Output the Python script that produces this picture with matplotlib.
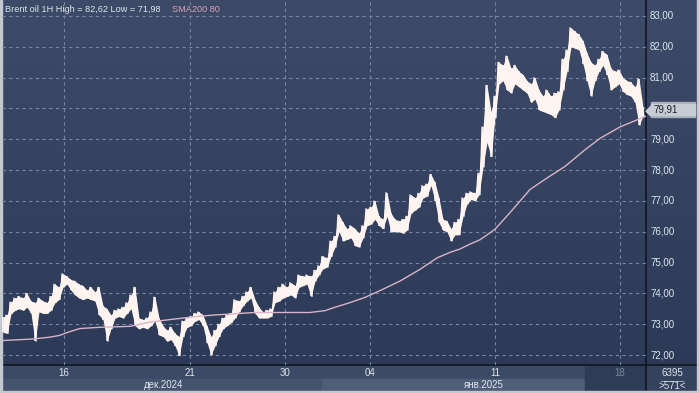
import numpy as np
import matplotlib
matplotlib.use("Agg")
import matplotlib.pyplot as plt
from matplotlib.patches import Rectangle, Polygon

plt.rcParams['font.family'] = ['Liberation Sans', 'DejaVu Sans']

# ---------------- data ----------------
title_text = "Brent oil 1H High = 82,62 Low = 71,98"
sma_label = "SMA200 80"
last_price = 79.91

price_ticks = [72, 73, 74, 75, 76, 77, 78, 79, 80, 81, 82, 83]
date_labels = ["16", "21", "30", "04", "11", "18"]
date_tick_pos = [62, 188, 283, 368, 493, 618]
month_labels = ["дек.2024", "янв.2025"]
bars_count_text = "6395"
visible_text = ">571<"

high = [
    73.23, 73.30, 73.72, 73.85, 73.90, 73.85, 74.00, 73.75,
    73.70, 73.85, 73.75, 73.70, 73.90, 74.30, 74.20, 74.64,
    74.55, 74.45, 74.40, 74.30, 74.25, 74.10, 74.20, 74.05,
    74.20, 73.60, 73.50, 73.30, 73.45, 73.50, 73.55, 73.70,
    73.95, 74.20, 73.20, 73.15, 73.20, 73.40, 73.88, 73.20,
    72.95, 72.80, 72.90, 72.70, 72.60, 73.10, 73.20, 73.25,
    73.35, 73.40, 73.30, 72.95, 72.60, 72.80, 73.00, 73.20,
    73.30, 73.35, 73.80, 73.75, 73.90, 74.05, 74.20, 73.80,
    73.55, 73.40, 73.45, 73.50, 74.05, 74.20, 74.30, 74.20,
    74.35, 74.25, 74.60, 74.55, 74.60, 74.55, 74.75, 74.90,
    75.20, 75.15, 75.70, 75.85, 76.55, 76.30, 76.10, 76.20,
    76.10, 75.95, 76.20, 76.75, 76.80, 77.00, 76.50, 76.40,
    77.27, 76.60, 76.40, 76.35, 76.40, 76.50, 77.20, 77.10,
    77.25, 77.50, 77.55, 77.86, 77.60, 77.10, 76.40, 76.35,
    76.10, 76.30, 76.40, 77.10, 77.25, 77.30, 77.25, 77.90,
    79.40, 80.75, 79.90, 80.40, 81.50, 81.40, 81.70, 81.30,
    81.40, 81.20, 81.10, 80.90, 80.80, 81.00, 80.60, 80.40,
    80.60, 80.40, 80.50, 80.55, 81.60, 81.90, 82.62, 82.50,
    82.40, 82.20, 81.80, 81.50, 81.40, 81.60, 81.85, 81.75,
    81.30, 81.20, 81.25, 81.00, 80.90, 80.85, 80.70, 80.96,
    80.05,
]
low = [
    72.74, 72.70, 73.34, 73.45, 73.50, 73.45, 73.55, 73.35,
    72.45, 73.40, 73.35, 73.35, 73.45, 73.70, 73.80, 74.20,
    74.30, 74.10, 73.95, 73.85, 73.80, 73.85, 73.80, 73.75,
    73.30, 73.15, 72.45, 72.85, 73.20, 73.25, 73.20, 73.35,
    73.50, 72.95, 72.85, 72.90, 72.85, 72.95, 73.10, 72.65,
    72.60, 72.45, 72.50, 72.30, 71.98, 72.60, 72.90, 72.95,
    73.10, 73.15, 72.95, 72.40, 72.00, 72.30, 72.60, 72.85,
    72.95, 73.05, 73.20, 73.40, 73.60, 73.75, 73.85, 73.35,
    73.20, 73.20, 73.20, 73.25, 73.70, 73.75, 73.85, 73.90,
    73.95, 73.85, 74.20, 74.25, 74.30, 73.90, 74.40, 74.60,
    74.80, 74.85, 75.20, 75.50, 76.00, 75.70, 75.75, 75.80,
    75.55, 75.50, 75.80, 76.20, 76.25, 76.40, 76.20, 76.10,
    76.50, 76.00, 76.00, 76.00, 75.95, 76.05, 76.60, 76.70,
    76.80, 77.10, 77.15, 77.50, 77.00, 76.30, 76.05, 76.00,
    75.70, 75.90, 75.90, 76.50, 76.90, 77.05, 77.00, 77.20,
    78.10, 78.90, 78.44, 79.70, 80.80, 80.90, 80.60, 80.50,
    80.80, 80.70, 80.60, 80.50, 80.20, 80.30, 79.95, 79.90,
    79.85, 79.80, 79.70, 79.95, 80.60, 81.20, 82.00, 81.95,
    81.90, 81.45, 80.90, 80.40, 80.90, 81.20, 81.40, 81.10,
    80.60, 80.70, 80.80, 80.55, 80.45, 80.40, 80.20, 79.46,
    79.75,
]

sma_pos = [1, 31, 48, 58, 65, 78, 98, 128, 148, 173, 198, 213, 253, 308, 323,
           333, 348, 363, 378, 398, 418, 435, 448, 458, 468, 478, 493, 508,
           528, 543, 563, 583, 598, 618, 638, 644]
sma_val = [72.47, 72.52, 72.58, 72.64, 72.73, 72.86, 72.90, 72.93, 73.07, 73.17,
           73.26, 73.30, 73.38, 73.38, 73.44, 73.55, 73.70, 73.87, 74.09, 74.40,
           74.78, 75.15, 75.33, 75.44, 75.60, 75.74, 76.08, 76.62, 77.37, 77.70,
           78.12, 78.66, 79.03, 79.40, 79.67, 79.75]

# ---------------- figure ----------------
W, H = 699, 393
fig = plt.figure(figsize=(W / 100, H / 100), dpi=100)

# background gradient
bg = fig.add_axes([0, 0, 1, 1])
bg.set_axis_off()
grad = np.linspace(0, 1, 256).reshape(-1, 1)
top_c = np.array([0x3d, 0x4b, 0x69]) / 255
bot_c = np.array([0x2b, 0x39, 0x57]) / 255
img = top_c[None, None, :] * (1 - grad[..., None]) + bot_c[None, None, :] * grad[..., None]
bg.imshow(img, aspect='auto', extent=[0, W, H, 0])
bg.set_xlim(0, W)
bg.set_ylim(H, 0)

# bottom panel
bg.add_patch(Rectangle((0, 365), W, 28, color='#3c4a66', zorder=2))
bg.add_patch(Rectangle((0, 379), W, 14, color='#45536f', zorder=2))
bg.add_patch(Rectangle((322, 379), 263, 14, color='#4f5d79', zorder=3))
bg.add_patch(Rectangle((585, 365), 61, 28, color='#2e3c58', zorder=3))
bg.add_patch(Rectangle((646, 365), 53, 28, color='#34425e', zorder=3))
bg.plot([0, W], [365, 365], color='#101520', lw=1.2, zorder=4)
bg.plot([646, 646], [0, 393], color='#101520', lw=1.2, zorder=4)
bg.plot([661, 683], [381, 381], color='#9aa4b8', lw=0.7, zorder=4)
# frame
bg.add_patch(Rectangle((0, 0), 2, H, color='#c4c8d0', zorder=5))
bg.add_patch(Rectangle((0, 391), W, 2, color='#c4c8d0', zorder=5))
bg.add_patch(Rectangle((697, 0), 2, H, color='#c4c8d0', zorder=5))

# main axes
ax = fig.add_axes([2 / W, 28 / H, 644 / W, 364 / H])
ax.set_facecolor('none')
ax.set_xlim(0, 644)
ax.set_ylim(83 - 349 / 30.82, 83 + 15 / 30.82)
for s in ax.spines.values():
    s.set_visible(False)
ax.set_xticks([])
ax.set_yticks([])

grid_c = '#7584a0'
for p in price_ticks:
    ax.axhline(p, color=grid_c, lw=0.8, ls=(0, (3, 3)), zorder=1)
for xp in date_tick_pos:
    ax.axvline(xp, color=grid_c, lw=0.8, ls=(0, (3, 3)), zorder=1)

bar_x = np.arange(len(high)) * 4 + 1
price_c = '#fff4f0'
hi_a = np.array(high)
lo_a = np.array(low)
zx = np.column_stack([bar_x - 1, bar_x + 1]).ravel()
zy = np.column_stack([hi_a, lo_a]).ravel()
ax.fill_between(bar_x, low, high, color=price_c, lw=0, zorder=3)
ax.plot(zx, zy, color=price_c, lw=0.9, zorder=3)
ax.vlines(bar_x, low, high, color=price_c, lw=1.1, zorder=3)
ax.plot(sma_pos, sma_val, color='#d9b3c8', lw=1.0, zorder=4)

# axis labels (figure pixel coords via bg axes)
txt_c = '#dfe4ee'
fs = 7
for p in price_ticks:
    if abs(p - last_price) < 0.4:
        continue  # hidden behind the last-price marker
    y = 16 + (83 - p) * 30.82
    bg.text(650, y, f"{p},00", color=txt_c, fontsize=fs, va='center', ha='left', zorder=6)

for lab, xp in zip(date_labels, date_tick_pos):
    c = '#7e889c' if lab == "18" else txt_c
    bg.text(xp + 2, 373, lab, color=c, fontsize=fs, ha='center', va='center', zorder=6)
bg.text(164, 385, month_labels[0], color=txt_c, fontsize=fs, ha='center', va='center', zorder=6)
bg.text(484, 385, month_labels[1], color=txt_c, fontsize=fs, ha='center', va='center', zorder=6)
bg.text(672, 373, bars_count_text, color=txt_c, fontsize=fs, ha='center', va='center', zorder=6)
bg.text(672, 386, visible_text, color=txt_c, fontsize=fs, ha='center', va='center', zorder=6)

# title
bg.text(5, 10, title_text, color=txt_c, fontsize=6.6, ha='left', va='center', zorder=6)
bg.text(172, 10, sma_label, color='#d9a3b6', fontsize=6.6, ha='left', va='center', zorder=6)

# last price marker
yl = 16 + (83 - last_price) * 30.82
bg.add_patch(Rectangle((651, yl - 9), 44, 15, color='#aab0bc', zorder=6))
bg.add_patch(Polygon([[646, yl], [651, yl - 5], [651, yl + 5]], closed=True, color='#c8ccd4', zorder=7))
bg.add_patch(Rectangle((651, yl - 7), 44, 11, color='#c8ccd4', zorder=7))
bg.text(653, yl - 1.5, "79,91", color='#1a1f2a', fontsize=fs, ha='left', va='center', zorder=8)

fig.savefig("out.png", dpi=100)
